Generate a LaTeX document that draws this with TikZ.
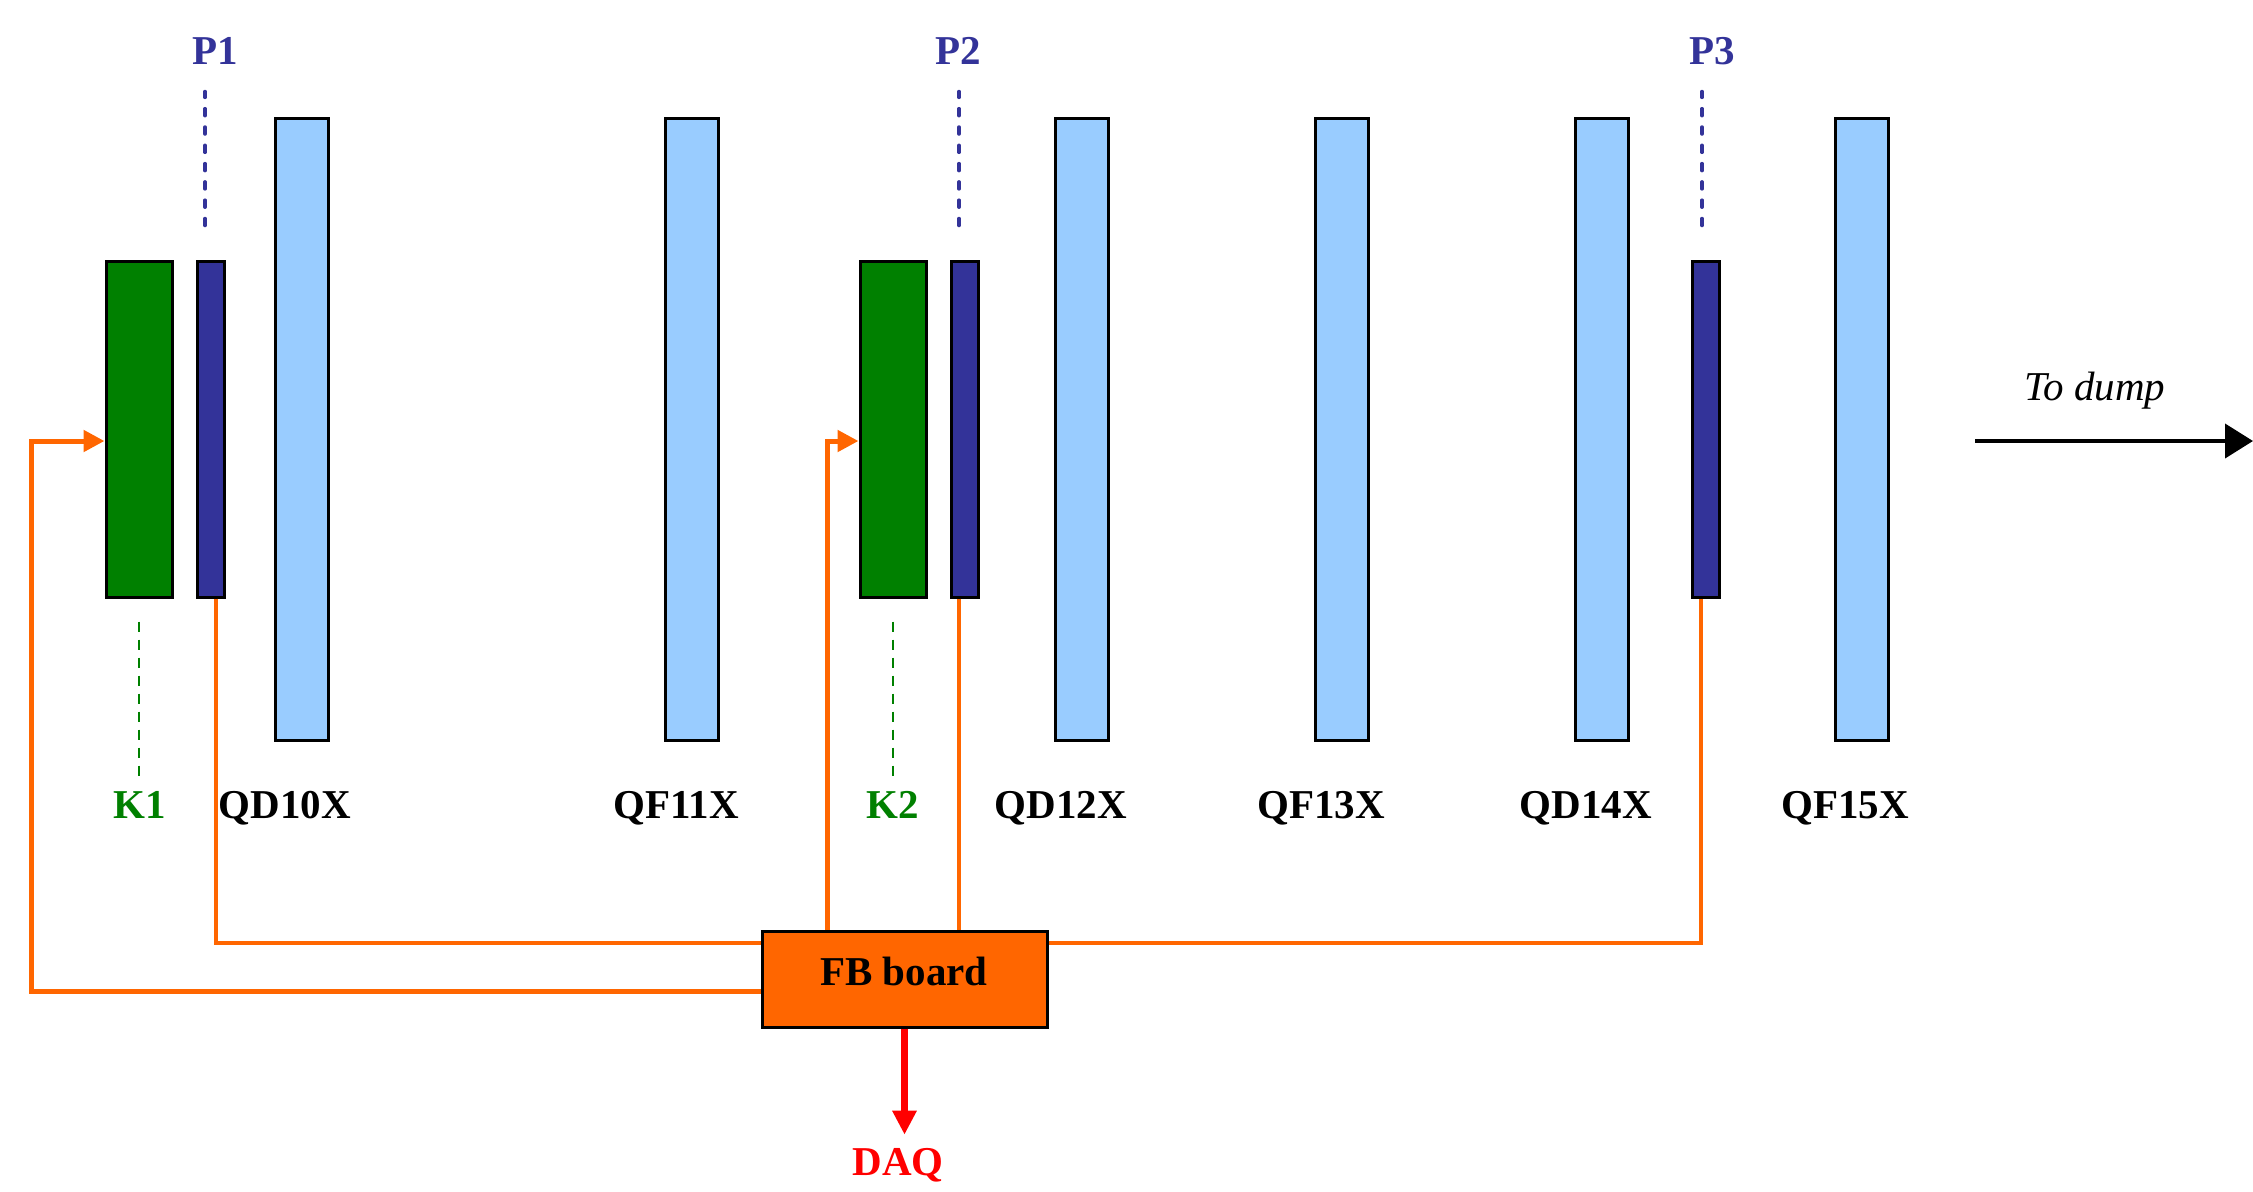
\documentclass[tikz,border=0pt]{standalone}
\usepackage{fontspec}
\setmainfont{Liberation Serif}
\usetikzlibrary{arrows.meta}
\definecolor{quadblue}{HTML}{99CCFF}
\definecolor{kgreen}{HTML}{008000}
\definecolor{pblue}{HTML}{333399}
\definecolor{sigorange}{HTML}{FF6600}
\definecolor{daqred}{HTML}{FF0000}
\tikzset{
  quad/.style={draw=black, line width=3pt, fill=quadblue, minimum width=53pt, minimum height=622pt, inner sep=0pt},
  kicker/.style={draw=black, line width=3pt, fill=kgreen, minimum width=66pt, minimum height=336pt, inner sep=0pt},
  bpm/.style={draw=black, line width=3pt, fill=pblue, minimum width=27pt, minimum height=336pt, inner sep=0pt},
  lbl/.style={font=\bfseries\fontsize{41pt}{41pt}\selectfont, anchor=base, inner sep=0pt},
  sig/.style={draw=sigorange, line width=4.5pt},
  sigk/.style={draw=sigorange, line width=5pt, -{Triangle[length=21pt,width=21pt]}},
  pdash/.style={draw=pblue, line width=3.5pt, line cap=round, dash pattern=on 7pt off 11.3pt},
  kdash/.style={draw=kgreen, line width=2.5pt, dash pattern=on 10.5pt off 7.5pt},
  fbbox/.style={draw=black, line width=3pt, fill=sigorange, minimum width=285pt, minimum height=96pt, inner sep=0pt},
}
\begin{document}
\begin{tikzpicture}[x=1pt,y=-1pt]
\useasboundingbox (0,0) rectangle (2253,1191);

% elements
\node[kicker] (k1) at (139,429) {};
\node[bpm] (p1) at (210.5,429) {};
\node[quad] (qd10) at (301.5,429) {};
\node[quad] (qf11) at (691.5,429) {};
\node[kicker] (k2) at (893,429) {};
\node[bpm] (p2) at (964.5,429) {};
\node[quad] (qd12) at (1081.5,429) {};
\node[quad] (qf13) at (1341.5,429) {};
\node[quad] (qd14) at (1601.5,429) {};
\node[bpm] (p3) at (1706,429) {};
\node[quad] (qf15) at (1861.5,429) {};

% top labels
\node[lbl, text=pblue] (p1l) at (215,64) {P1};
\node[lbl, text=pblue] (p2l) at (958,64) {P2};
\node[lbl, text=pblue] (p3l) at (1712,64) {P3};

% bottom labels
\node[lbl, text=kgreen] (k1l) at (139.6,818) {K1};
\node[lbl] (qd10l) at (285,818) {QD10X};
\node[lbl] (qf11l) at (676,818) {QF11X};
\node[lbl, text=kgreen] (k2l) at (893,818) {K2};
\node[lbl] (qd12l) at (1061,818) {QD12X};
\node[lbl] (qf13l) at (1321,818) {QF13X};
\node[lbl] (qd14l) at (1586,818) {QD14X};
\node[lbl] (qf15l) at (1845,818) {QF15X};

% dashed leaders
\draw[pdash] ([xshift=-5.5pt,yshift=34pt]p1.north) -- ++(0,-134);
\draw[pdash] ([xshift=-5.5pt,yshift=34pt]p2.north) -- ++(0,-134);
\draw[pdash] ([xshift=-4pt,yshift=34pt]p3.north) -- ++(0,-134);
\draw[kdash] ([yshift=-23pt]k1.south) -- ++(0,154);
\draw[kdash] ([yshift=-23pt]k2.south) -- ++(0,154);

% feedback board
\node[fbbox] (fb) at (904.5,979) {};
\node[lbl] (fbl) at (904,985) {FB board};

% signal lines
\draw[sig] ([xshift=5.5pt]p1.south) |- ([yshift=36pt]fb.west);
\draw[sig] ([xshift=-5.5pt]p2.south) -- ([xshift=-5.5pt]p2.south |- fb.north);
\draw[sig] ([yshift=36pt]fb.east) -| ([xshift=-5pt]p3.south);
\coordinate (lc) at (31,700);
\draw[sigk] ([yshift=-12pt]fb.west) -| (lc) |- ([yshift=-12pt]k1.west);
\draw[sigk] ([xshift=-77pt]fb.north) |- ([yshift=-12pt]k2.west);

% DAQ
\node[lbl, text=daqred] (daq) at (898,1175) {DAQ};
\draw[draw=daqred, line width=7.5pt, -{Triangle[length=24pt,width=23pt]}, shorten >=13pt] (fb.south) -- (fb.south |- daq.north);

% To dump
\coordinate (ds) at (1975,441);
\coordinate (de) at (2253,441);
\draw[line width=4pt, -{Triangle[length=28pt,width=34pt]}] (ds) -- (de);
\node[font=\itshape\fontsize{41pt}{41pt}\selectfont, anchor=base, inner sep=0pt] (dump) at (2095,400) {To dump};
\end{tikzpicture}
\end{document}
